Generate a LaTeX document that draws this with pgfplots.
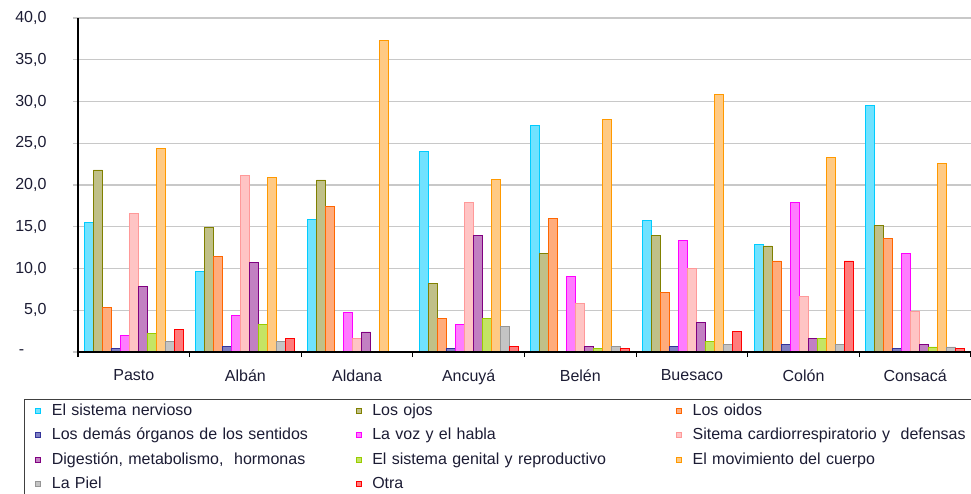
\documentclass[border=0pt]{standalone}
\usepackage{pgfplots}
\pgfplotsset{compat=1.18}
\usepackage{fontspec}
\setmainfont{Liberation Sans}

\definecolor{txt}{RGB}{28,28,52}
\definecolor{gridc}{RGB}{200,200,200}
\definecolor{c1d}{RGB}{0,204,255}   \definecolor{c1f}{RGB}{112,226,255}
\definecolor{c2d}{RGB}{128,128,0}   \definecolor{c2f}{RGB}{192,192,136}
\definecolor{c3d}{RGB}{255,102,0}   \definecolor{c3f}{RGB}{255,172,124}
\definecolor{c4d}{RGB}{51,51,153}   \definecolor{c4f}{RGB}{128,128,196}
\definecolor{c5d}{RGB}{255,0,255}   \definecolor{c5f}{RGB}{255,124,255}
\definecolor{c6d}{RGB}{255,153,153} \definecolor{c6f}{RGB}{255,196,196}
\definecolor{c7d}{RGB}{128,0,128}   \definecolor{c7f}{RGB}{194,128,194}
\definecolor{c8d}{RGB}{153,204,0}   \definecolor{c8f}{RGB}{196,228,100}
\definecolor{c9d}{RGB}{255,153,0}   \definecolor{c9f}{RGB}{255,202,132}
\definecolor{c10d}{RGB}{150,150,150}\definecolor{c10f}{RGB}{196,196,196}
\definecolor{c11d}{RGB}{255,0,0}    \definecolor{c11f}{RGB}{255,124,124}

\tikzset{
  barc/.style={draw=#1d, fill=#1f},
}
\pgfplotsset{
  common/.style={
    at={(78pt,141pt)}, anchor=south west,
    scale only axis, width=893pt, height=334pt,
    xmin=-0.5, xmax=7.5, ymin=0, ymax=40,
    axis x line*=bottom, axis y line*=left,
    xtick={-0.5,0.5,...,7.5},
    ytick={0,5,...,40},
    tick align=outside, major tick length=5pt,
  },
}

\begin{document}
\begin{tikzpicture}
\useasboundingbox (0,0) rectangle (971pt,493pt);
% bars, grid and legend
\begin{axis}[
  common,
  axis line style={draw=none},
  xticklabels={}, yticklabels={},
  x tick style={draw=none},
  y tick style={gridc, line width=1.2pt},
  ymajorgrids, grid style={gridc, line width=1.2pt},
  ybar=0pt, bar width=9pt,
  legend columns=3,
  legend image code/.code={\draw[#1, line width=0.9pt] (0pt,-2.6pt) rectangle (5pt,2.6pt);},
  legend style={
    at={(axis description cs:-0.0605,-0.1407)}, anchor=north west,
    draw=black!75, line width=1pt,
    font=\fontsize{16}{19}\selectfont, text=txt,
    inner xsep=11pt, inner ysep=5pt,
    nodes={inner sep=0pt},
    row sep=12pt,
    cells={anchor=west},
    /tikz/every odd column/.append style={column sep=10.5pt},
    /tikz/every even column/.append style={text width=304pt, text height=11pt, text depth=4pt},
  },
  every axis plot/.append style={line width=0.9pt},
]
% El sistema nervioso
\addplot[barc=c1] coordinates {(0,15.5) (1,9.6) (2,15.9) (3,24.0) (4,27.1) (5,15.8) (6,12.9) (7,29.5)};
% Los ojos
\addplot[barc=c2] coordinates {(0,21.8) (1,14.9) (2,20.6) (3,8.2) (4,11.8) (5,14.0) (6,12.7) (7,15.1)};
% Los oidos
\addplot[barc=c3] coordinates {(0,5.3) (1,11.4) (2,17.4) (3,4.0) (4,16.0) (5,7.1) (6,10.9) (7,13.6)};
% Los demas organos de los sentidos
\addplot[barc=c4] coordinates {(0,0.4) (1,0.7) (3,0.4) (5,0.7) (6,0.9) (7,0.4)};
% La voz y el habla
\addplot[barc=c5] coordinates {(0,2.0) (1,4.4) (2,4.7) (3,3.3) (4,9.1) (5,13.3) (6,17.9) (7,11.8)};
% Sitema cardiorrespiratorio y defensas
\addplot[barc=c6] coordinates {(0,16.6) (1,21.1) (2,1.6) (3,17.9) (4,5.8) (5,10.0) (6,6.6) (7,4.8)};
% Digestion, metabolismo, hormonas
\addplot[barc=c7] coordinates {(0,7.8) (1,10.7) (2,2.4) (3,14.0) (4,0.7) (5,3.5) (6,1.6) (7,0.9)};
% El sistema genital y reproductivo
\addplot[barc=c8] coordinates {(0,2.2) (1,3.3) (3,4.0) (4,0.4) (5,1.3) (6,1.6) (7,0.6)};
% El movimiento del cuerpo
\addplot[barc=c9] coordinates {(0,24.4) (1,20.9) (2,37.3) (3,20.7) (4,27.9) (5,30.8) (6,23.3) (7,22.6)};
% La Piel
\addplot[barc=c10] coordinates {(0,1.3) (1,1.3) (3,3.1) (4,0.7) (5,0.9) (6,0.9) (7,0.6)};
% Otra
\addplot[barc=c11] coordinates {(0,2.7) (1,1.6) (3,0.7) (4,0.4) (5,2.5) (6,10.9) (7,0.4)};
\legend{El sistema nervioso, Los ojos, Los oidos,
  Los demás órganos de los sentidos, La voz y el habla, Sitema cardiorrespiratorio y~ defensas,
  {Digestión, metabolismo,~ hormonas}, El sistema genital y reproductivo, El movimiento del cuerpo,
  La Piel, Otra}
\end{axis}
% axis lines, ticks and labels on top
\begin{axis}[
  common,
  axis line style={black, line width=1.2pt, -},
  x tick label as interval,
  xticklabels={Pasto,Albán,Aldana,Ancuyá,Belén,Buesaco,Colón,Consacá},
  yticklabels={{-\hphantom{0,0}},{5,0},{10,0},{15,0},{20,0},{25,0},{30,0},{35,0},{40,0}},
  x tick style={black, line width=1.2pt},
  y tick style={draw=none},
  ticklabel style={font=\fontsize{16}{19}\selectfont, text=txt},
  xticklabel style={yshift=-9pt},
  yticklabel style={xshift=-23pt},
]
\end{axis}
\end{tikzpicture}
\end{document}
